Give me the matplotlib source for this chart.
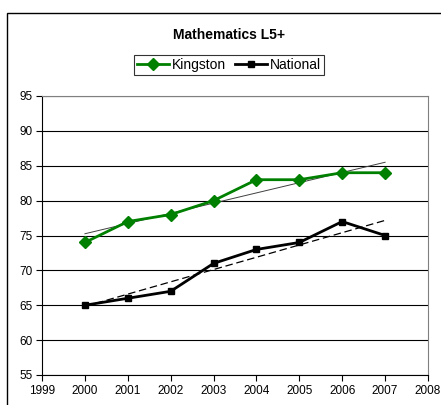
import numpy as np
import matplotlib.pyplot as plt
from matplotlib.patches import Rectangle

plt.rcParams['font.family'] = ['Liberation Sans', 'DejaVu Sans']

years = [2000, 2001, 2002, 2003, 2004, 2005, 2006, 2007]
kingston = [74, 77, 78, 80, 83, 83, 84, 84]
national = [65, 66, 67, 71, 73, 74, 77, 75]

fig = plt.figure(figsize=(4.41, 4.05), dpi=100)
ax = fig.add_axes([42/441, 1-375/405, (428-42)/441, (375-96)/405])

# outer chart border (clipped on right and bottom like the original)
fig.patches.append(Rectangle((7/441, -0.05), 1.0, 1 - 13/405 + 0.05,
                             transform=fig.transFigure, fill=False,
                             edgecolor='k', linewidth=1.0))

ax.plot(years, kingston, color='#008000', marker='D', markersize=6.5,
        linewidth=2, label='Kingston', zorder=4)
ax.plot(years, national, color='k', marker='s', markersize=4.5,
        linewidth=2, label='National', zorder=4)

# linear trend lines
x = np.array(years)
k = np.polyfit(x, kingston, 1)
n = np.polyfit(x, national, 1)
ax.plot(x, np.polyval(k, x), color='#404040', linewidth=0.7, zorder=3)
ax.plot(x, np.polyval(n, x), color='k', linewidth=0.9, linestyle=(0, (6, 3)), zorder=3)

ax.set_xlim(1999, 2008)
ax.set_ylim(55, 95)
ax.set_xticks(range(1999, 2009))
ax.set_yticks(range(55, 96, 5))
ax.yaxis.grid(True, color='k', linewidth=0.8)
ax.set_axisbelow(True)

for s in ['top', 'right']:
    ax.spines[s].set_color('#808080')
for s in ['left', 'bottom']:
    ax.spines[s].set_color('k')
ax.tick_params(axis='both', direction='out', length=4, width=0.8,
               labelsize=8.5, pad=3)

fig.text(229/441, 1-35/405, 'Mathematics L5+', ha='center', va='center',
         fontsize=10, fontweight='bold')
leg = fig.legend(loc='center', bbox_to_anchor=(229/441, 1-65/405), ncol=2,
                 fontsize=10, frameon=True, fancybox=False, edgecolor='k',
                 handlelength=2.3, handletextpad=0.2, columnspacing=0.6,
                 borderpad=0.25)
leg.get_frame().set_linewidth(0.8)

fig.savefig('out.png', dpi=100)
